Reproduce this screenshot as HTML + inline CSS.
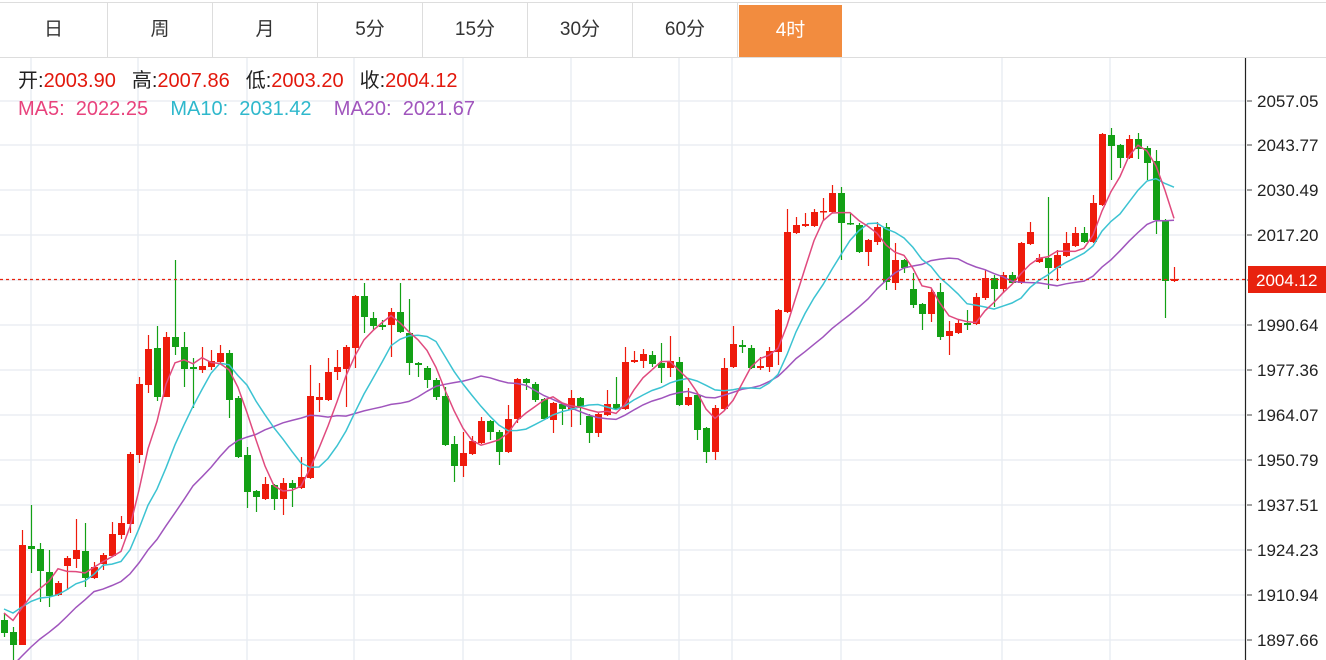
<!DOCTYPE html>
<html><head><meta charset="utf-8"><style>
html,body{margin:0;padding:0;background:#fff;width:1326px;height:660px;overflow:hidden;font-family:"Liberation Sans","Noto Sans CJK SC",sans-serif;}
#tabs{position:absolute;left:0;top:2px;height:54px;width:1326px;border-top:1px solid #ddd;border-bottom:1px solid #ddd;}
.tab{position:absolute;top:0;height:54px;line-height:54px;text-align:center;font-size:19px;color:#333;border-right:1px solid #ddd;box-sizing:border-box;}
.tab.on{background:#f28c3f;color:#fff;top:2px;height:52px;line-height:52px;border-right:none;}
#leg{position:absolute;left:18px;top:67px;font-size:20px;line-height:28px;white-space:nowrap;}
.k{color:#222}.v{color:#e2180c;margin-right:16px}
</style></head><body>
<svg id="c" width="1326" height="660" style="position:absolute;left:0;top:0"></svg>
<div id="tabs">
<div class="tab" style="left:0;width:108px">日</div>
<div class="tab" style="left:108px;width:105px">周</div>
<div class="tab" style="left:213px;width:105px">月</div>
<div class="tab" style="left:318px;width:105px">5分</div>
<div class="tab" style="left:423px;width:105px">15分</div>
<div class="tab" style="left:528px;width:105px">30分</div>
<div class="tab" style="left:633px;width:105px">60分</div>
<div class="tab on" style="left:739px;width:103px">4时</div>
</div>
<div id="leg">
<div><span class="k">开:</span><span class="v">2003.90</span><span class="k">高:</span><span class="v">2007.86</span><span class="k">低:</span><span class="v">2003.20</span><span class="k">收:</span><span class="v">2004.12</span></div>
<div><span style="color:#e8437d">MA5:&nbsp;&nbsp;2022.25</span>&nbsp;&nbsp;&nbsp;&nbsp;<span style="color:#2fb8cc">MA10:&nbsp;&nbsp;2031.42</span>&nbsp;&nbsp;&nbsp;&nbsp;<span style="color:#a055bd">MA20:&nbsp;&nbsp;2021.67</span></div>
</div>
<script>
var D=[[620,633,613,637,'g'],[632,645,627,660,'g'],[545,645,530,645,'r'],[546,549,505,573,'g'],[549,571,543,602,'g'],[572,596,550,607,'g'],[583,595,581,596,'r'],[558,566,556,590,'r'],[550,559,519,568,'r'],[551,578,523,587,'g'],
[567,578,562,579,'r'],[555,564,553,570,'r'],[534,556,522,557,'r'],[523,535,516,539,'r'],[454,524,452,533,'r'],[384,455,377,463,'r'],[349,385,335,393,'r'],[348,397,326,401,'g'],[337,397,332,397,'r'],[337,347,260,355,'g'],
[347,369,332,387,'g'],[367,369,358,408,'g'],[366,370,347,373,'r'],[361,367,350,370,'r'],[353,362,345,363,'r'],[353,400,350,418,'g'],[398,457,396,458,'g'],[455,492,447,508,'g'],[491,497,490,512,'g'],[484,499,477,500,'r'],
[485,499,484,510,'g'],[483,499,478,515,'r'],[483,488,480,507,'g'],[477,488,457,489,'r'],[396,478,365,479,'r'],[397,400,383,412,'r'],[372,400,358,401,'r'],[367,372,350,380,'r'],[347,369,345,407,'r'],[296,348,295,368,'r'],
[296,317,283,333,'g'],[318,326,312,330,'g'],[325,327,320,330,'g'],[312,325,308,357,'r'],[312,332,283,333,'g'],[333,363,299,375,'g'],[363,365,362,377,'g'],[368,380,366,388,'g'],[380,397,378,400,'g'],[396,445,387,446,'g'],
[444,466,436,482,'g'],[453,466,432,477,'r'],[441,454,436,455,'r'],[421,443,417,444,'r'],[421,432,420,440,'g'],[432,452,430,465,'g'],[419,452,405,453,'r'],[379,419,378,423,'r'],[379,383,378,390,'g'],[384,400,382,402,'g'],
[399,419,398,420,'g'],[403,420,402,433,'r'],[404,409,403,425,'g'],[398,410,390,427,'r'],[398,407,397,425,'g'],[416,433,414,443,'g'],[414,433,413,437,'r'],[404,415,390,416,'r'],[404,409,377,410,'g'],[362,409,347,410,'r'],
[360,362,351,363,'r'],[354,361,349,368,'r'],[355,364,351,367,'g'],[363,368,343,383,'g'],[361,368,336,377,'r'],[362,405,357,406,'g'],[397,405,388,406,'r'],[395,430,394,440,'g'],[428,452,427,463,'g'],[408,452,405,460,'r'],
[368,409,358,410,'r'],[344,367,326,368,'r'],[345,347,340,353,'g'],[348,368,345,369,'g'],[366,368,357,370,'r'],[351,367,347,372,'r'],[310,352,309,365,'r'],[232,312,209,313,'r'],[225,233,217,234,'r'],[224,226,213,227,'r'],
[212,226,209,227,'r'],[211,212,198,220,'r'],[193,212,185,213,'r'],[193,223,187,260,'g'],[223,224,213,225,'g'],[225,252,223,253,'g'],[240,252,239,266,'r'],[227,242,222,245,'r'],[227,282,223,290,'g'],[260,283,243,290,'r'],
[260,268,259,273,'g'],[289,305,273,308,'g'],[304,314,303,330,'g'],[292,314,288,322,'r'],[292,337,283,340,'g'],[331,336,321,355,'r'],[323,333,320,334,'r'],[323,325,310,330,'g'],[297,324,293,325,'r'],[278,298,270,300,'r'],
[278,289,275,307,'g'],[275,289,272,293,'r'],[275,283,272,284,'g'],[243,283,242,284,'r'],[232,244,222,245,'r'],[258,262,254,263,'r'],[258,268,197,289,'g'],[255,268,250,281,'r'],[243,256,232,257,'r'],[233,246,227,247,'r'],
[233,242,227,243,'g'],[203,242,195,243,'r'],[134,205,133,206,'r'],[135,146,128,180,'g'],[145,158,144,168,'g'],[139,158,135,159,'r'],[139,149,133,159,'g'],[148,163,146,180,'g'],[161,220,150,234,'g'],[220,281,219,318,'g'],
[279,281,267,282,'r']];
var s='';
s+='<defs><clipPath id="cp"><rect x="0" y="58" width="1245" height="602"/></clipPath></defs>';
var ys=[101,145,190,235,280,325,370,415,460,505,550,595,640];
var lab=['2057.05','2043.77','2030.49','2017.20','','1990.64','1977.36','1964.07','1950.79','1937.51','1924.23','1910.94','1897.66'];
ys.forEach(function(y){s+='<line x1="0" x2="1245" y1="'+y+'" y2="'+y+'" stroke="#e6ebf1" stroke-width="1.3"/>';});
[31,138,247,354,463,571,679,732,841,1002,1110].forEach(function(x){s+='<line x1="'+x+'" x2="'+x+'" y1="58" y2="660" stroke="#e6ebf1" stroke-width="1.3"/>';});
var cl=D.map(function(d){return d[4]=='r'?d[0]:d[1];});
var pre=[730,730,730,730,730,730,730,730,730,730,605,605,605,605,605,608,608,608,608];
var all=pre.concat(cl),P=pre.length;
function ma(n,col){var pts=[];for(var i=0;i<cl.length;i++){var k=i+P,sum=0;for(var j=0;j<n;j++)sum+=all[k-j];pts.push((4+9*i)+','+(sum/n).toFixed(1));}
return '<polyline clip-path="url(#cp)" fill="none" stroke="'+col+'" stroke-width="1.5" points="'+pts.join(' ')+'"/>';}
var cs='';
D.forEach(function(d,i){var x=4+9*i,c=d[4]=='r'?'#ee1b0c':'#13a015';
cs+='<line x1="'+(x+0.5)+'" x2="'+(x+0.5)+'" y1="'+d[2]+'" y2="'+d[3]+'" stroke="'+c+'" stroke-width="1.2"/>';
cs+='<rect x="'+(x-3)+'" y="'+d[0]+'" width="7" height="'+Math.max(1.5,d[1]-d[0])+'" fill="'+c+'"/>';});
s+='<g clip-path="url(#cp)">'+cs+'</g>';
s+=ma(20,'#a055bd')+ma(10,'#3cc3d2')+ma(5,'#e04a7e');
s+='<line x1="0" x2="1245" y1="279.5" y2="279.5" stroke="#e8220e" stroke-width="1.3" stroke-dasharray="3,3"/>';
s+='<line x1="1245.5" x2="1245.5" y1="58" y2="660" stroke="#222" stroke-width="1.2"/>';
ys.forEach(function(y,i){if(!lab[i])return;s+='<line x1="1247" x2="1252" y1="'+y+'" y2="'+y+'" stroke="#444"/>';
s+='<text x="1257" y="'+(y+6)+'" font-family="Liberation Sans, sans-serif" font-size="17" fill="#222">'+lab[i]+'</text>';});
s+='<line x1="1247" x2="1252" y1="280" y2="280" stroke="#444"/>';
s+='<rect x="1248" y="266" width="78" height="27" fill="#e8220e"/>';
s+='<text x="1256" y="286" font-family="Liberation Sans, sans-serif" font-size="17" fill="#fff">2004.12</text>';
document.getElementById('c').innerHTML=s;
</script>
</body></html>
